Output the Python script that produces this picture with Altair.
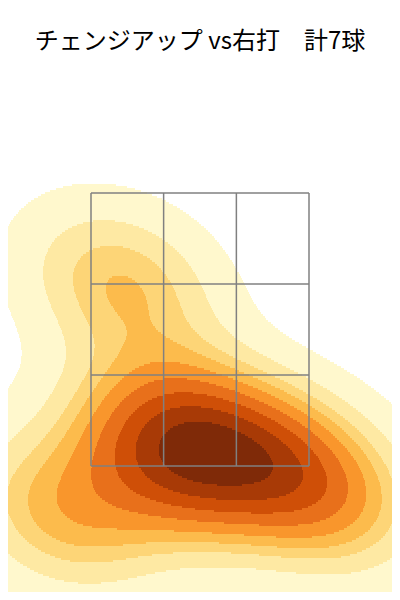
import altair as alt
import numpy as np
import pandas as pd

# ---- data: pitch locations (ft) ----
plate_x = [-0.38, 0.11, 0.57, -0.17, -0.60, -1.07, 0.98]
plate_z = [1.46, 1.56, 1.58, 1.80, 2.83, 1.14, 1.27]

band_colors = ["#fff8cd", "#fee9a3", "#fdd577", "#fcbb4c", "#f9962c",
               "#e8701b", "#cf4f07", "#a83a06", "#7f2a08"]

zone_x = [-0.83, -0.277, 0.277, 0.83]
zone_z = [1.5, 2.167, 2.833, 3.5]

title_text = "チェンジアップ vs右打　計7球"

X_DOM = [-1.462, 1.462]
Z_DOM = [0.577, 4.855]
W, H = 384, 584

# ---- KDE (Scott's rule, like seaborn/scipy) ----
pts = np.array([plate_x, plate_z])
n = pts.shape[1]
factor = n ** (-1 / 6)
cov = np.cov(pts) * factor ** 2
inv = np.linalg.inv(cov)
norm = 1 / (2 * np.pi * np.sqrt(np.linalg.det(cov)))


def kde(xx, zz):
    d = np.zeros_like(xx)
    for i in range(n):
        dx = xx - pts[0, i]
        dz = zz - pts[1, i]
        q = inv[0, 0] * dx * dx + 2 * inv[0, 1] * dx * dz + inv[1, 1] * dz * dz
        d += np.exp(-0.5 * q)
    return d * norm / n


bw = factor * pts.std(axis=1, ddof=1)
gx = np.linspace(pts[0].min() - 3 * bw[0], pts[0].max() + 3 * bw[0], 200)
gz = np.linspace(pts[1].min() - 3 * bw[1], pts[1].max() + 3 * bw[1], 200)
GX, GZ = np.meshgrid(gx, gz)
dens = kde(GX, GZ)
vals = np.sort(dens.ravel())[::-1]
cum = np.cumsum(vals) / vals.sum()
props = np.linspace(0.05, 1, 10)
idx = np.searchsorted(cum, 1 - props)
levels = np.take(vals, idx, mode="clip")

# ---- band table (runs of equal band per row) ----
ncol, nrow = W, H // 2
xe = np.linspace(X_DOM[0], X_DOM[1], ncol + 1)
ze = np.linspace(Z_DOM[0], Z_DOM[1], nrow + 1)
xc = (xe[:-1] + xe[1:]) / 2
zc = (ze[:-1] + ze[1:]) / 2
XC, ZC = np.meshgrid(xc, zc)
D = kde(XC, ZC)
inside = (XC >= gx[0]) & (XC <= gx[-1]) & (ZC >= gz[0]) & (ZC <= gz[-1])
B = np.searchsorted(levels[:9], D, side="right") - 1
B[~inside] = -1

rows = []
for r in range(nrow):
    row = B[r]
    c = 0
    while c < ncol:
        b = row[c]
        c2 = c
        while c2 + 1 < ncol and row[c2 + 1] == b:
            c2 += 1
        if b >= 0:
            rows.append((xe[c], xe[c2 + 1], ze[r], ze[r + 1], int(b)))
        c = c2 + 1
df = pd.DataFrame(rows, columns=["x", "x2", "z", "z2", "band"])

xs = alt.Scale(domain=X_DOM, nice=False, zero=False)
zs = alt.Scale(domain=Z_DOM, nice=False, zero=False)

fill = alt.Chart(df).mark_rect(strokeWidth=0).encode(
    x=alt.X("x:Q", scale=xs, axis=None),
    x2="x2:Q",
    y=alt.Y("z:Q", scale=zs, axis=None),
    y2="z2:Q",
    color=alt.Color("band:O", scale=alt.Scale(domain=list(range(9)), range=band_colors), legend=None),
)

vdf = pd.DataFrame({"x": zone_x, "z": [zone_z[0]] * 4, "z2": [zone_z[-1]] * 4})
hdf = pd.DataFrame({"z": zone_z, "x": [zone_x[0]] * 4, "x2": [zone_x[-1]] * 4})

vlines = alt.Chart(vdf).mark_rule(color="#808080", strokeWidth=1.5).encode(
    x=alt.X("x:Q", scale=xs, axis=None), y=alt.Y("z:Q", scale=zs, axis=None), y2="z2:Q")
hlines = alt.Chart(hdf).mark_rule(color="#808080", strokeWidth=1.5).encode(
    y=alt.Y("z:Q", scale=zs, axis=None), x=alt.X("x:Q", scale=xs, axis=None), x2="x2:Q")

title = alt.Chart(pd.DataFrame({"t": [title_text]})).mark_text(
    font="Noto Sans CJK JP", fontSize=24, color="#000000", baseline="middle", align="center"
).encode(x=alt.value(W / 2), y=alt.value(34), text="t:N")

chart = alt.layer(fill, vlines, hlines, title).properties(
    width=W, height=H, padding=0, autosize=alt.AutoSizeParams(type="none")
).configure_view(stroke=None)

chart.save("out.html", embed_options={"renderer": "svg", "actions": False})
